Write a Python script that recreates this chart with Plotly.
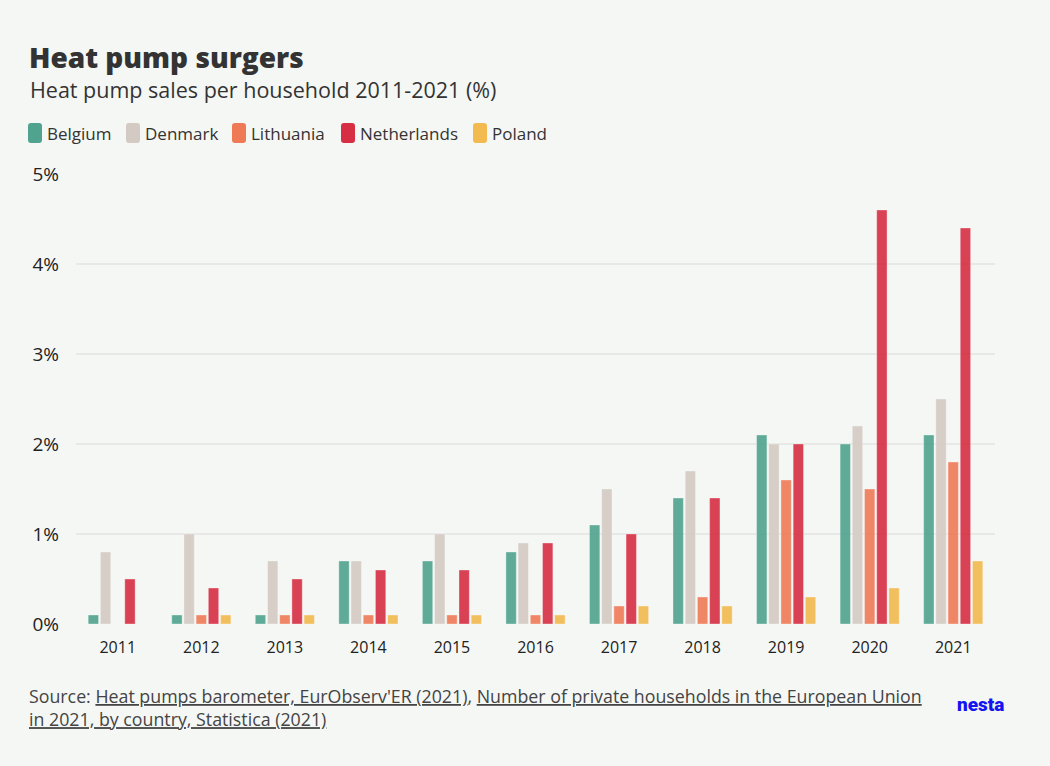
import plotly.graph_objects as go

# Data: heat pump sales per household (%)
years = ["2011", "2012", "2013", "2014", "2015", "2016", "2017", "2018", "2019", "2020", "2021"]
belgium = [0.1, 0.1, 0.1, 0.7, 0.7, 0.8, 1.1, 1.4, 2.1, 2.0, 2.1]
denmark = [0.8, 1.0, 0.7, 0.7, 1.0, 0.9, 1.5, 1.7, 2.0, 2.2, 2.5]
lithuania = [None, 0.1, 0.1, 0.1, 0.1, 0.1, 0.2, 0.3, 1.6, 1.5, 1.8]
netherlands = [0.5, 0.4, 0.5, 0.6, 0.6, 0.9, 1.0, 1.4, 2.0, 4.6, 4.4]
poland = [None, 0.1, 0.1, 0.1, 0.1, 0.1, 0.2, 0.2, 0.3, 0.4, 0.7]

series = [
    ("Belgium", belgium, "#4FA38F"),
    ("Denmark", denmark, "#D3CAC3"),
    ("Lithuania", lithuania, "#EF7A56"),
    ("Netherlands", netherlands, "#D72E43"),
    ("Poland", poland, "#F2BA4F"),
]

W, H = 1050, 766
L, R, T, B = 76, 55, 174, 142
BG = "#F5F7F4"
FONT = "Open Sans"

# left edges (px) of the legend swatches
legend_x = [28, 126, 232, 341, 473]


def px(x):
    # pixel x -> paper x
    return (x - L) / (W - L - R)


def py(y):
    # pixel y -> paper y
    return (H - B - y) / (H - T - B)


def rounded_rect(w, h, r):
    # path in pixels, centred on the anchor
    x0, x1, y0, y1 = -w / 2, w / 2, -h / 2, h / 2
    return (f"M {x0 + r},{y0} L {x1 - r},{y0} Q {x1},{y0} {x1},{y0 + r} "
            f"L {x1},{y1 - r} Q {x1},{y1} {x1 - r},{y1} L {x0 + r},{y1} "
            f"Q {x0},{y1} {x0},{y1 - r} L {x0},{y0 + r} Q {x0},{y0} {x0 + r},{y0} Z")


fig = go.Figure()
for name, vals, col in series:
    fig.add_trace(go.Bar(
        x=years, y=vals, name=name,
        marker=dict(color=col, opacity=0.9,
                    line=dict(color="rgba(255,255,255,0.35)", width=1)),
    ))

fig.update_layout(
    width=W, height=H,
    paper_bgcolor=BG, plot_bgcolor=BG,
    margin=dict(l=L, r=R, t=T, b=B),
    barmode="group", bargap=0.27, bargroupgap=0.15,
    font=dict(family=FONT, color="#2b2b2b", size=16),
    showlegend=False,
    xaxis=dict(showgrid=False, showline=False, ticks="", ticklabelstandoff=12,
               tickfont=dict(size=16, color="#222")),
    yaxis=dict(range=[0, 5], dtick=1, ticksuffix="%", showgrid=True,
               gridcolor="#E8E9E6", gridwidth=2, zeroline=False,
               tickfont=dict(size=19, color="#222"), ticklabelstandoff=16),
)

# legend drawn by hand so the spacing matches
for (name, vals, col), lx in zip(series, legend_x):
    fig.add_shape(type="path", xref="paper", yref="paper",
                  xsizemode="pixel", ysizemode="pixel",
                  xanchor=px(lx + 7), yanchor=py(133),
                  path=rounded_rect(14, 20, 3), fillcolor=col, line_width=0)
    fig.add_annotation(text=name, xref="paper", yref="paper",
                       x=px(lx + 17), y=py(133), xanchor="left", yanchor="middle",
                       showarrow=False, font=dict(size=17, color="#333"))

fig.add_annotation(text="Heat pump surgers", xref="paper", yref="paper",
                   x=px(27), y=py(57), xanchor="left", yanchor="middle",
                   showarrow=False, font=dict(size=28, color="#333", family=FONT, weight=800))
fig.add_annotation(text="Heat pump sales per household 2011-2021 (%)", xref="paper", yref="paper",
                   x=px(28), y=py(89), xanchor="left", yanchor="middle",
                   showarrow=False, font=dict(size=21.5, color="#333", family=FONT))

u = '<span style="text-decoration:underline">%s</span>'
source = ("Source: " + u % "Heat pumps barometer, EurObserv'ER (2021)" + ", "
          + u % "Number of private households in the European Union" + "<br>"
          + u % "in 2021, by country, Statistica (2021)")
fig.add_annotation(text=source, xref="paper", yref="paper",
                   x=px(27), y=py(707), xanchor="left", yanchor="middle", align="left",
                   showarrow=False, font=dict(size=17.8, color="#444", family=FONT))
fig.add_annotation(text="nesta", xref="paper", yref="paper",
                   x=px(1006), y=py(704), xanchor="right", yanchor="middle",
                   showarrow=False, font=dict(size=19, color="#1414F0", family="Roboto", weight=900))

fig.write_html("out.html", config={"displayModeBar": False},
               post_script="document.body.style.margin='0';"
                           "document.body.style.background='%s';" % BG)
